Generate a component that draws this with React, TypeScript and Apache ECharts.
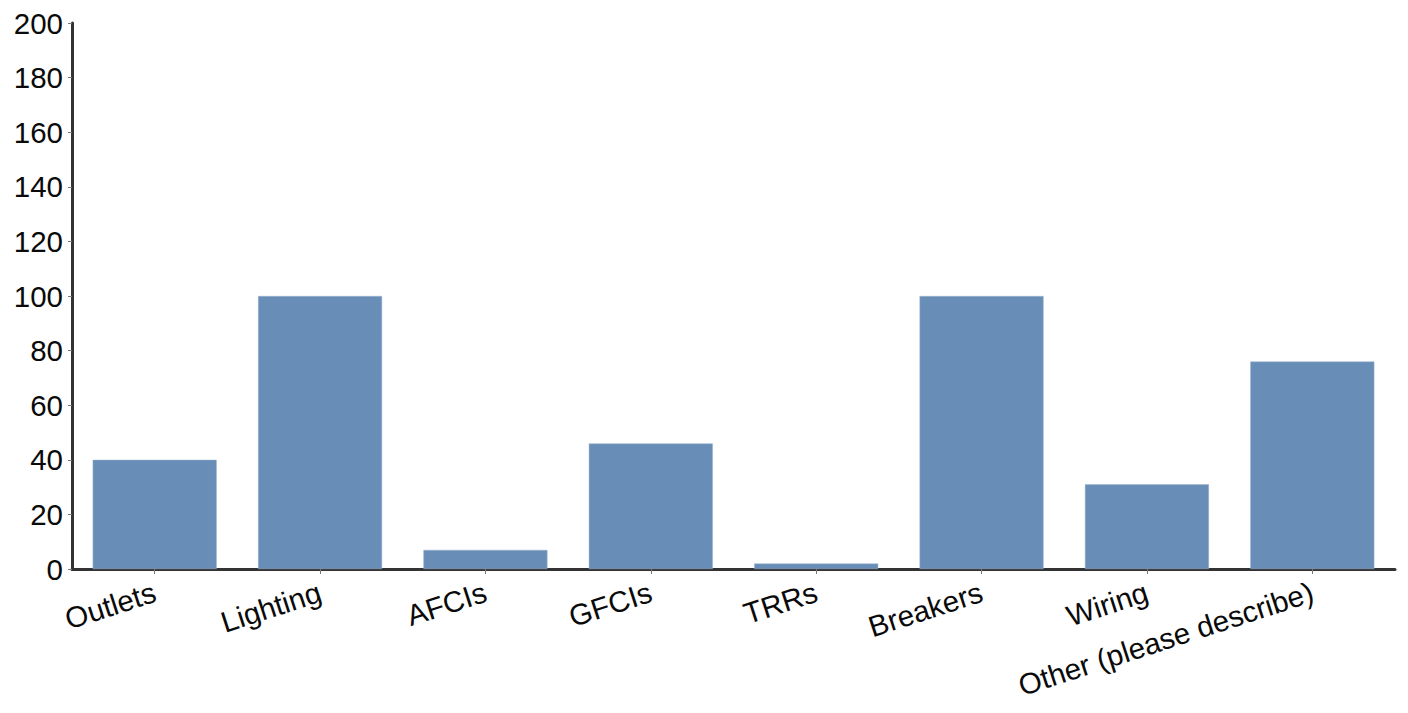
import React, { useEffect, useRef } from "react";
import * as echarts from "echarts";

const categories = ["Outlets", "Lighting", "AFCIs", "GFCIs", "TRRs", "Breakers", "Wiring", "Other (please describe)"];
const values = [40, 100, 7, 46, 2, 100, 31, 76];
const yMin = 0;
const yMax = 200;
const yStep = 20;

export default function App() {
  const ref = useRef<HTMLDivElement>(null);
  useEffect(() => {
    const chart = echarts.init(ref.current!, undefined, { renderer: "svg" });
    chart.setOption({
      animation: false,
      backgroundColor: "#ffffff",
      grid: { left: 72, right: 13, top: 23, bottom: 144, containLabel: false },
      xAxis: {
        type: "category",
        data: categories,
        axisLine: { show: true, lineStyle: { color: "#333333", width: 3 } },
        axisTick: { show: true, alignWithLabel: true, length: 5, lineStyle: { color: "#777777", width: 1 } },
        axisLabel: {
          rotate: 18,
          interval: 0,
          margin: 22,
          fontSize: 29.5,
          color: "#0a0a0a",
          fontFamily: "Liberation Sans, Arial, sans-serif",
        },
      },
      yAxis: {
        type: "value",
        min: yMin,
        max: yMax,
        interval: yStep,
        axisLine: { show: true, lineStyle: { color: "#333333", width: 3 } },
        axisTick: { show: true, length: 4, lineStyle: { color: "#777777", width: 1 } },
        splitLine: { show: false },
        axisLabel: {
          margin: 9,
          fontSize: 29.5,
          color: "#0a0a0a",
          fontFamily: "Liberation Sans, Arial, sans-serif",
        },
      },
      series: [
        {
          type: "bar",
          data: values,
          barCategoryGap: "25%",
          itemStyle: { color: "#688EB8", borderColor: "#9fb3cc", borderWidth: 0.5 },
        },
      ],
    });
    return () => chart.dispose();
  }, []);
  return <div ref={ref} style={{ position: "fixed", left: 0, top: 0, width: 1408, height: 713 }} />;
}
